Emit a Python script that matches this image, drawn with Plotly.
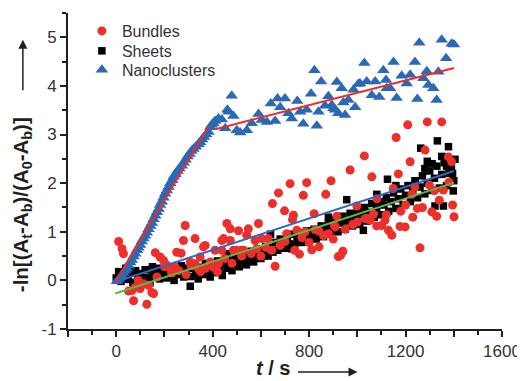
import plotly.graph_objects as go

# ---------------- data ----------------
# Sheets (black squares)
sheets_x = list(range(0, 1401, 10)) + [307, 390, 1332, 1378, 1263, 1405, 956, 1125, 1357, 1322, 1398, 1025,
                                       728, 1081, 1290, 1310, 1350, 1280, 1370, 1395, 1240, 1160, 880, 40,
                                       60, 20, 70, 150, 640, 460]
sheets_y = [0.05, 0.18, -0.02, 0.12, 0.22, 0.02, 0.15, -0.04, 0.20, 0.08,
            0.14, 0.00, 0.22, 0.06, -0.05, 0.17, 0.10, 0.25, 0.03, 0.13,
            0.20, 0.05, 0.28, 0.10, 0.00, 0.22, 0.12, 0.30, 0.07, 0.18,
            0.25, 0.08, 0.32, 0.15, 0.03, 0.27, 0.12, 0.35, 0.18, 0.10,
            0.30, 0.16, 0.40, 0.22, 0.10, 0.36, 0.25, 0.45, 0.20, 0.33,
            0.48, 0.28, 0.40, 0.55, 0.32, 0.47, 0.60, 0.38, 0.52, 0.65,
            0.45, 0.62, 0.70, 0.50, 0.68, 0.58, 0.78, 0.62, 0.85, 0.70,
            0.66, 0.88, 0.75, 0.95, 0.70, 0.84, 0.98, 0.78, 0.90, 1.02,
            0.80, 0.95, 1.05, 0.85, 1.00, 1.12, 0.90, 1.08, 1.18, 0.96,
            1.10, 1.25, 1.00, 1.18, 1.32, 1.05, 1.22, 1.38, 1.12, 1.30,
            1.42, 1.15, 1.35, 1.50, 1.22, 1.40, 1.58, 1.30, 1.48, 1.62,
            1.35, 1.55, 1.70, 1.42, 1.62, 1.80, 1.48, 1.68, 1.88, 1.55,
            1.75, 1.95, 1.62, 1.85, 2.05, 1.70, 1.92, 2.15, 1.78, 2.00,
            2.25, 1.85, 2.10, 2.35, 1.90, 2.18, 2.42, 1.95, 2.20, 2.30,
            2.05,
            -0.12, 0.07, 2.87, 2.75, 2.72, 2.49, 1.66, 2.08, 1.53, 1.53, 1.84, 1.03,
            0.65, 1.77, 2.45, 2.40, 2.55, 2.30, 2.35, 2.20, 2.05, 1.95, 1.30, 0.25,
            0.20, 0.12, -0.05, 0.28, 0.95, 0.55]

# Bundles (red circles)
bundles_x = [10, 24, 30, 51, 72, 79, 92, 99, 113, 127, 134, 148, 162, 169, 182, 196, 210, 224, 245, 251,
             269, 279, 286, 307, 327, 327, 341, 348, 369, 390, 403, 424, 438, 438, 445, 459, 473, 473, 486, 500,
             507, 528, 541, 548, 576, 583, 590, 604, 631, 645, 648, 659, 673, 698, 707, 721, 731, 735, 749, 760,
             776, 783, 790, 811, 821, 825, 841, 869, 880, 891, 905, 908, 915, 921, 931, 940, 970, 981, 998, 1029,
             1032, 1053, 1060, 1067, 1081, 1101, 1115, 1129, 1143, 1149, 1161, 1170, 1177, 1198, 1209, 1219, 1226, 1239, 1249, 1260,
             1281, 1290, 1299, 1309, 1329, 1350, 1357, 1378, 1391, 1401,
             155, 65, 362, 410, 521, 200, 230, 260, 290, 310, 350, 370, 420, 450, 480, 520, 560, 600, 620, 680,
             700, 740, 770, 800, 840, 860, 900, 950, 1000, 1040, 1080, 1120, 1180, 1200, 1230, 1270, 1320, 1340, 1380, 1395]
bundles_y = [0.80, 0.65, 0.55, -0.22, -0.42, -0.14, 0.00, -0.17, -0.07, -0.49, -0.10, -0.25, 0.57, 0.07, 0.48, 0.41, 0.31, 0.24, 0.27, 0.58,
             0.56, 0.82, 1.13, 0.38, 0.86, 0.34, 0.24, 0.48, 0.72, 0.38, 0.27, 0.34, 0.82, 0.62, 0.86, 1.17, 1.06, 0.82, 0.62, 0.62,
             1.02, 0.62, 0.93, 1.06, 0.82, 0.65, 1.17, 0.86, 0.86, 0.62, 1.58, 0.29, 1.80, 1.43, 0.96, 1.99, 1.25, 1.34, 1.03, 0.54,
             1.75, 1.00, 2.01, 0.63, 1.37, 1.04, 0.69, 1.77, 0.96, 2.05, 1.13, 1.10, 1.32, 0.49, 0.52, 0.60, 2.27, 1.15, 1.53, 2.56,
             1.27, 1.24, 2.13, 1.36, 1.68, 1.13, 1.24, 1.03, 0.93, 1.89, 2.94, 2.19, 1.11, 1.10, 3.20, 2.44, 1.77, 1.92, 1.48, 0.67,
             2.68, 3.26, 1.96, 1.41, 1.32, 3.26, 1.86, 2.54, 2.44, 1.31,
             -0.27, -0.21, 0.69, 0.62, 0.62, 0.28, 0.15, 0.20, 0.12, 0.30, 0.18, 0.25, 0.18, 0.45, 0.35, 0.50, 0.55, 0.50, 0.68, 0.72,
             0.80, 0.62, 0.88, 0.78, 1.02, 0.92, 0.85, 1.05, 1.20, 1.28, 1.12, 1.35, 1.42, 1.55, 1.30, 1.50, 1.85, 1.65, 2.02, 1.55]

# Nanoclusters (blue triangles)
nano_x = [3, 10, 17, 24, 30, 37, 44, 51, 58, 65, 72, 79, 86, 92, 99, 106, 113, 120, 127, 134,
          141, 148, 155, 162, 169, 176, 182, 189, 196, 203, 210, 217, 224, 232, 238, 246, 254, 262, 272, 280,
          288, 296, 304, 312, 320, 330, 341, 348, 356, 364, 373, 383, 390, 396, 403,
          410, 424, 438, 452, 461, 466, 479, 486, 500, 514, 542, 562, 590, 604, 625, 641, 659, 669, 680, 700,
          714, 728, 751, 763, 776, 790, 808, 822, 832, 839, 850, 866, 880, 894, 901, 908, 915, 921, 942, 949,
          963, 935, 984, 991, 1004, 1011, 1029, 1039, 1060, 1074, 1091, 1108, 1119, 1122, 1136, 1150, 1163, 1184, 1205, 1219,
          1239, 1249, 1257, 1274, 1288, 1295, 1315, 1329, 1336, 1350, 1368, 1391, 1401]
nano_y = [-0.02, 0.02, 0.06, 0.10, 0.15, 0.20, 0.24, 0.30, 0.37, 0.42, 0.49, 0.55, 0.62, 0.67, 0.73, 0.80, 0.86, 0.92, 0.98, 1.05,
          1.12, 1.18, 1.26, 1.33, 1.40, 1.47, 1.55, 1.62, 1.70, 1.78, 1.85, 1.92, 2.00, 2.06, 2.13, 2.18, 2.25, 2.30, 2.36, 2.42,
          2.48, 2.55, 2.60, 2.66, 2.70, 2.75, 2.80, 2.84, 2.90, 2.95, 3.00, 3.05, 3.15, 3.20, 3.23,
          3.28, 3.33, 3.31, 3.13, 3.51, 3.47, 3.80, 3.38, 3.09, 3.04, 3.09, 3.23, 3.42, 3.30, 3.26, 3.64, 3.28, 3.74, 3.56, 3.74,
          3.44, 3.33, 3.69, 3.47, 3.22, 3.51, 3.84, 4.32, 3.18, 3.47, 4.09, 3.59, 3.79, 3.61, 3.54, 3.51, 4.08, 3.44, 3.66, 3.40,
          3.71, 3.95, 3.92, 3.56, 4.04, 4.05, 4.47, 4.09, 3.81, 4.09, 3.77, 4.32, 4.12, 3.95, 3.95, 4.49, 3.75, 4.21, 4.05, 4.23,
          4.49, 3.73, 4.89, 4.16, 4.30, 4.02, 3.95, 3.71, 4.29, 4.95, 4.57, 4.87, 4.85]

# Linear fits (endpoints)
fit_nano1_x = [-8, 383]
fit_nano1_y = [-0.07, 3.17]
fit_nano2_x = [410, 1401]
fit_nano2_y = [3.11, 4.37]
fit_bundles_x = [-10, 1401]
fit_bundles_y = [-0.04, 2.25]
fit_sheets_x = [-4, 1401]
fit_sheets_y = [-0.27, 2.01]

x_tickvals = [-200, 0, 200, 400, 600, 800, 1000, 1200, 1400, 1600]
x_ticktext = ["", "0", "", "400", "", "800", "", "1200", "", "1600"]
y_tickvals = [-1, 0, 1, 2, 3, 4, 5]
y_ticktext = ["-1", "0", "1", "2", "3", "4", "5"]

RED = "#ec2f2a"
BLUE = "#2b69b6"
FONT = "Arial, 'Liberation Sans', sans-serif"
AX = "#231f20"

fig = go.Figure()
fig.add_trace(go.Scatter(x=sheets_x, y=sheets_y, mode="markers", name="Sheets", legend="legend2",
                         marker=dict(symbol="square", size=7.5, color="black", line=dict(width=0))))
fig.add_trace(go.Scatter(x=bundles_x, y=bundles_y, mode="markers", name="Bundles", legend="legend",
                         marker=dict(symbol="circle", size=9, color=RED, line=dict(width=0))))
fig.add_trace(go.Scatter(x=nano_x, y=nano_y, mode="markers", name="Nanoclusters", legend="legend3",
                         marker=dict(symbol="triangle-up", size=11, color=BLUE, line=dict(width=0))))
for fx, fy, col in [(fit_nano1_x, fit_nano1_y, "#ee2b25"), (fit_nano2_x, fit_nano2_y, "#ee2b25"),
                    (fit_bundles_x, fit_bundles_y, "#2d69c4"), (fit_sheets_x, fit_sheets_y, "#5cb845")]:
    fig.add_trace(go.Scatter(x=fx, y=fy, mode="lines", showlegend=False, line=dict(color=col, width=2)))

leg = dict(x=0.032, xanchor="left", yanchor="middle", bgcolor="rgba(0,0,0,0)",
           font=dict(size=16, color="#333333"), itemwidth=30)

fig.update_layout(
    width=517, height=373,
    margin=dict(l=60, r=23, t=5, b=52),
    paper_bgcolor="white", plot_bgcolor="white",
    font=dict(family=FONT, size=16, color="#333333"),
    showlegend=True,
    legend=dict(leg, y=0.943),
    legend2=dict(leg, y=0.880),
    legend3=dict(leg, y=0.820),
    xaxis=dict(range=[-200, 1600], showline=True, linewidth=2, linecolor=AX, mirror=False,
               showgrid=False, zeroline=False, ticks="outside", ticklen=6, tickwidth=2, tickcolor=AX,
               tickmode="array", tickvals=x_tickvals, ticktext=x_ticktext,
               minor=dict(dtick=100, tick0=0, ticks="outside", ticklen=4, tickwidth=2, tickcolor=AX),
               tickfont=dict(size=17, color="#333333")),
    yaxis=dict(range=[-1, 5.5], showline=True, linewidth=2, linecolor=AX, mirror=False,
               showgrid=False, zeroline=False, ticks="outside", ticklen=6, tickwidth=2, tickcolor=AX,
               tickmode="array", tickvals=y_tickvals, ticktext=y_ticktext,
               minor=dict(dtick=0.5, tick0=0, ticks="outside", ticklen=4, tickwidth=2, tickcolor=AX),
               tickfont=dict(size=17, color="#333333")),
)

# Axis titles with arrows
fig.add_annotation(xref="paper", yref="paper", x=-0.106, y=0.395, textangle=-90, showarrow=False,
                   text="<b>-ln[(A<sub>t</sub>-A<sub>b</sub>)/(A<sub>0</sub>-A<sub>b</sub>)]</b>",
                   font=dict(size=20.5, color="#231f20"), xanchor="center", yanchor="middle")
fig.add_annotation(xref="paper", yref="paper", x=-0.104, y=0.915, ax=0, ay=52, text="",
                   showarrow=True, arrowhead=2, arrowsize=1.2, arrowwidth=1.5, arrowcolor="#231f20")
fig.add_annotation(xref="paper", yref="paper", x=0.472, y=-0.122, showarrow=False,
                   text="<b><i>t</i> / s</b>", font=dict(size=20, color="#231f20"),
                   xanchor="center", yanchor="middle")
fig.add_annotation(xref="paper", yref="paper", x=0.667, y=-0.136, ax=-61, ay=0, text="",
                   showarrow=True, arrowhead=2, arrowsize=1.2, arrowwidth=1.5, arrowcolor="#231f20")

fig.write_html("out.html")
